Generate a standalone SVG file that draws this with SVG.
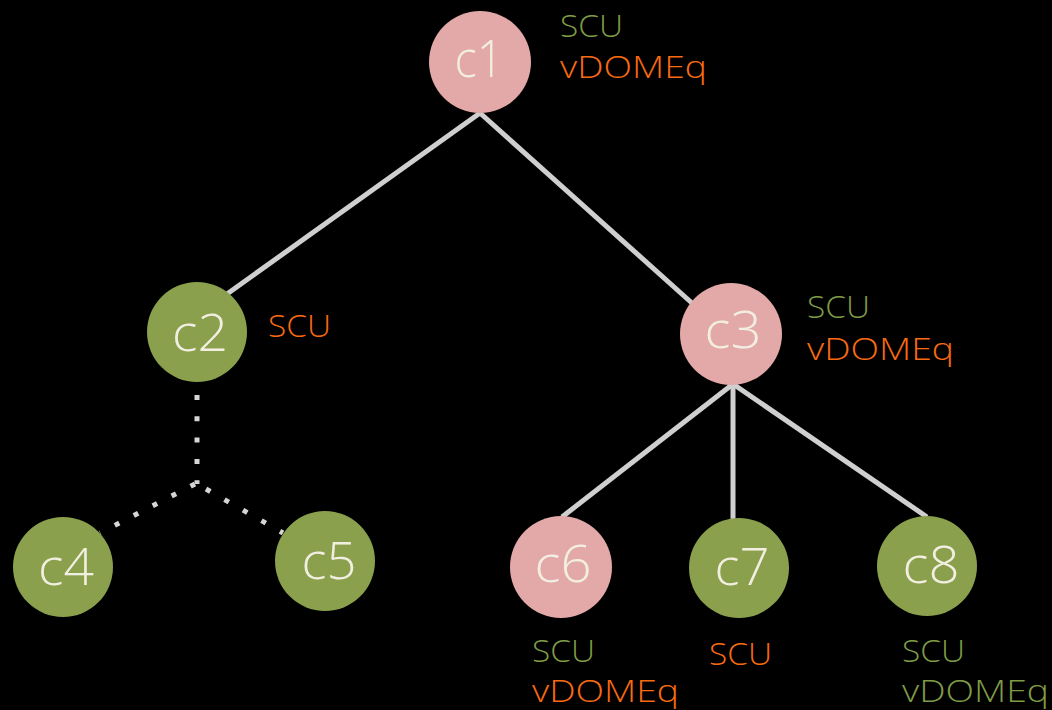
<svg xmlns="http://www.w3.org/2000/svg" width="1052" height="710" viewBox="0 0 1052 710">
  <style>
    .edge { stroke: #cfcfcf; stroke-width: 5; fill: none; }
    .dotted { stroke: #d6d6d6; stroke-width: 5; fill: none; stroke-dasharray: 5 16.3; }
    .pink { fill: #e3a8a8; }
    .green { fill: #8aa04c; }
    .name { font-family: "Open Sans", "Liberation Sans", sans-serif; font-weight: 300; font-size: 52px; fill: #f2efe2; text-anchor: middle; }
    .tag { font-family: "Open Sans", "Liberation Sans", sans-serif; font-weight: 300; font-size: 31px; }
    .g { fill: #7f9c45; }
    .o { fill: #f86a12; }
  </style>
  <rect width="1052" height="710" fill="#000000"/>

  <g id="connectors">
    <line class="edge" x1="480" y1="113" x2="227" y2="294"/>
    <line class="edge" x1="480" y1="113" x2="693" y2="304"/>
    <line class="edge" x1="733" y1="384" x2="562" y2="517"/>
    <line class="edge" x1="733" y1="384" x2="733" y2="519"/>
    <line class="edge" x1="733" y1="384" x2="927" y2="517"/>
    <path class="dotted" d="M197 395 L197 484"/>
    <path class="dotted" d="M195 484 L100 533"/>
    <path class="dotted" d="M206 489 L283 533"/>
  </g>

  <g id="c1">
    <circle class="pink" cx="480" cy="62" r="51"/>
    <text class="name" x="479" y="77" textLength="49" lengthAdjust="spacingAndGlyphs">c1</text>
    <text class="tag g" x="560" y="37" textLength="63" lengthAdjust="spacingAndGlyphs">SCU</text>
    <text class="tag o" x="560" y="78" textLength="147" lengthAdjust="spacingAndGlyphs">vDOMEq</text>
  </g>

  <g id="c2">
    <circle class="green" cx="197" cy="332" r="50"/>
    <text class="name" x="200" y="351" textLength="56" lengthAdjust="spacingAndGlyphs">c2</text>
    <text class="tag o" x="268" y="337" textLength="63" lengthAdjust="spacingAndGlyphs">SCU</text>
  </g>

  <g id="c3">
    <circle class="pink" cx="731" cy="334" r="51"/>
    <text class="name" x="733" y="348" textLength="57" lengthAdjust="spacingAndGlyphs">c3</text>
    <text class="tag g" x="807" y="318" textLength="63" lengthAdjust="spacingAndGlyphs">SCU</text>
    <text class="tag o" x="807" y="360" textLength="147" lengthAdjust="spacingAndGlyphs">vDOMEq</text>
  </g>

  <g id="c4">
    <circle class="green" cx="63" cy="567" r="50"/>
    <text class="name" x="66" y="585" textLength="56" lengthAdjust="spacingAndGlyphs">c4</text>
  </g>

  <g id="c5">
    <circle class="green" cx="325" cy="561" r="50"/>
    <text class="name" x="329" y="579" textLength="55" lengthAdjust="spacingAndGlyphs">c5</text>
  </g>

  <g id="c6">
    <circle class="pink" cx="561" cy="567" r="51"/>
    <text class="name" x="563" y="582" textLength="57" lengthAdjust="spacingAndGlyphs">c6</text>
    <text class="tag g" x="532" y="662" textLength="63" lengthAdjust="spacingAndGlyphs">SCU</text>
    <text class="tag o" x="532" y="702" textLength="147" lengthAdjust="spacingAndGlyphs">vDOMEq</text>
  </g>

  <g id="c7">
    <circle class="green" cx="739" cy="568" r="50"/>
    <text class="name" x="742" y="585" textLength="55" lengthAdjust="spacingAndGlyphs">c7</text>
    <text class="tag o" x="709" y="665" textLength="63" lengthAdjust="spacingAndGlyphs">SCU</text>
  </g>

  <g id="c8">
    <circle class="green" cx="927" cy="566" r="50"/>
    <text class="name" x="931" y="583" textLength="57" lengthAdjust="spacingAndGlyphs">c8</text>
    <text class="tag g" x="902" y="662" textLength="63" lengthAdjust="spacingAndGlyphs">SCU</text>
    <text class="tag g" x="902" y="702" textLength="147" lengthAdjust="spacingAndGlyphs">vDOMEq</text>
  </g>
</svg>
